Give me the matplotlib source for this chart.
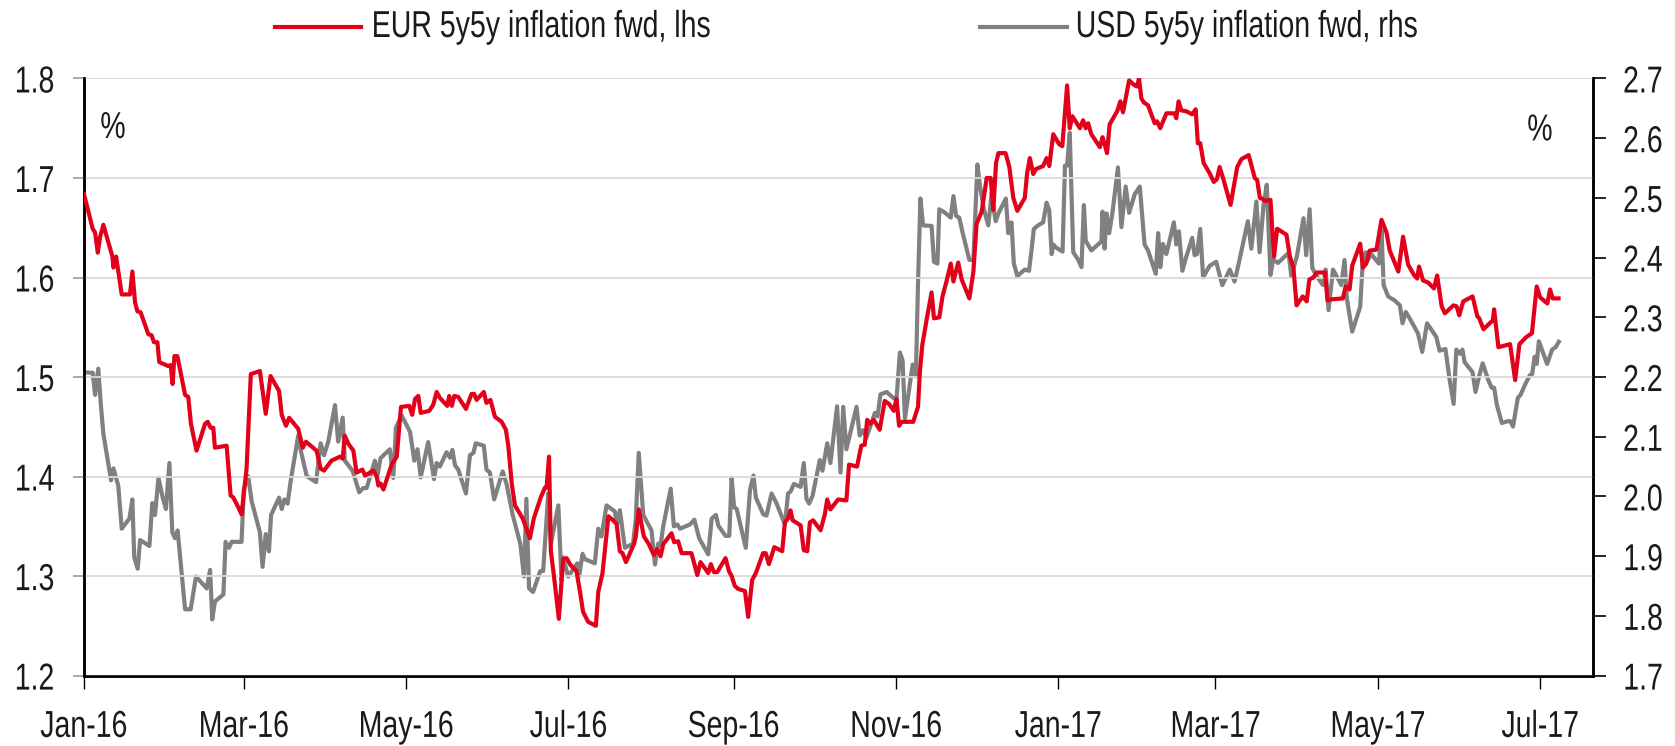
import matplotlib
matplotlib.use("Agg")
import matplotlib.pyplot as plt
import matplotlib.dates as mdates
from matplotlib.lines import Line2D
from matplotlib import patheffects
from matplotlib.transforms import Affine2D
import pandas as pd
import numpy as np

plt.rcParams['font.family'] = ['Liberation Sans', 'DejaVu Sans']

# ---- data (days since 2016-01-01, values in %) ----
eur_days = [0.0, 1.7, 3.3, 4.2, 5.2, 6.1, 7.3, 9.2, 10.7, 11.1, 12.1, 14.2, 17.3, 18.2, 19.2, 20.1, 21.3, 24.2, 25.4, 26.3, 27.6, 28.3, 31.7, 32.6, 33.3, 34.0, 35.1, 38.0, 39.2, 40.2, 42.3, 45.5, 46.5, 47.6, 48.6, 49.2, 53.6, 55.1, 56.1, 58.0, 59.2, 61.1, 62.7, 66.1, 68.3, 70.1, 73.3, 74.3, 75.9, 77.1, 80.5, 82.2, 83.4, 87.4, 88.9, 90.2, 93.0,
            96.2, 97.2, 98.0, 99.3, 101.2, 102.4, 104.6, 105.6, 108.7, 110.0, 110.6, 111.4, 112.5, 115.6, 117.5, 119.1, 122.2, 123.3, 124.4, 125.6, 126.5, 129.7, 131.2, 132.5, 133.7, 136.5, 137.2, 138.2, 139.1, 140.6, 143.5, 145.6, 146.6, 147.5, 150.2, 151.2, 152.7, 154.4, 156.9, 158.5, 159.4, 160.7, 161.9, 164.8, 167.5, 169.0, 171.6, 173.2, 173.8, 174.7, 175.4, 176.6, 178.4, 180.0, 181.3, 182.8, 185.0, 186.3,
            187.5, 189.4, 192.3, 193.2, 194.8, 197.0, 198.8, 200.1, 201.3, 202.3, 203.6, 206.6, 207.3, 208.4, 210.3, 212.2, 214.1, 215.3, 216.6, 217.6, 220.7, 221.7, 223.2, 224.5, 228.2, 230.4, 231.6, 234.5, 235.5, 236.6, 237.9, 241.0, 242.3, 243.3, 244.5, 245.8, 248.3, 249.5, 251.0, 252.4, 255.1, 256.1, 257.3, 259.3, 262.3, 263.3, 264.5, 265.4, 266.2, 269.2, 270.4, 271.7, 272.7, 273.9, 276.7, 278.3, 279.2, 280.4,
            283.3, 286.4, 287.4, 290.4, 292.0, 293.3, 294.2, 295.4, 296.7, 298.9, 300.8, 302.4, 304.2, 305.2, 306.2, 307.1, 311.5, 313.3, 314.0, 314.9, 316.5, 318.4, 319.3, 321.3, 322.5, 324.0, 325.6, 326.6, 328.4, 329.7, 332.6, 334.1, 335.3, 337.2, 339.1, 340.6, 341.6, 342.6, 343.5, 346.2, 347.6, 349.1, 350.6, 353.4, 354.3, 355.3, 356.6, 357.6, 360.3, 361.6, 362.6, 364.1, 366.3, 367.5, 369.3, 370.3, 371.3,
            374.1, 375.3, 376.3, 377.2, 378.4, 380.6, 381.6, 382.6, 383.4, 384.3, 385.3, 388.1, 389.3, 390.3, 392.6, 394.7, 395.6, 396.3, 397.2, 398.1, 399.7, 402.2, 403.1, 404.3, 406.6, 409.7, 410.3, 411.2, 412.2, 414.1, 416.3, 417.6, 418.4, 419.3, 420.6, 422.8, 424.4, 425.6, 426.6, 428.2, 430.7, 433.2, 434.8, 437.5, 439.8, 440.7, 441.7, 442.7, 443.6, 445.7, 447.0, 448.2, 451.7, 453.0, 454.3, 455.5, 457.8, 459.3, 460.3, 461.8, 463.1, 466.2, 467.1, 468.4,
            472.9, 473.9, 475.4, 476.4, 479.4, 480.4, 481.7, 482.9, 485.5, 487.4, 489.3, 490.5, 493.7, 495.5, 497.4, 499.5, 500.8, 501.5, 503.0, 504.9, 507.1, 508.3, 510.0, 511.2, 514.4, 515.6, 516.6, 518.1, 521.6, 523.4, 524.1, 525.7, 529.2, 529.7, 531.3, 535.7, 537.6, 539.2, 541.7, 543.9, 545.7, 547.0, 549.7, 550.7, 551.7, 553.9]
eur_vals = [1.684, 1.666, 1.649, 1.645, 1.625, 1.641, 1.653, 1.635, 1.621, 1.610, 1.621, 1.583, 1.583, 1.606, 1.575, 1.566, 1.565, 1.543, 1.542, 1.535, 1.535, 1.515, 1.511, 1.512, 1.493, 1.521, 1.521, 1.482, 1.480, 1.453, 1.426, 1.453, 1.455, 1.449, 1.449, 1.429, 1.431, 1.381, 1.379, 1.369, 1.362, 1.408, 1.503, 1.506, 1.463, 1.501, 1.486, 1.462, 1.451, 1.459, 1.448, 1.429, 1.435, 1.426, 1.408, 1.406, 1.416,
            1.420, 1.418, 1.441, 1.433, 1.426, 1.404, 1.407, 1.401, 1.406, 1.400, 1.391, 1.393, 1.387, 1.412, 1.420, 1.470, 1.471, 1.462, 1.478, 1.481, 1.464, 1.466, 1.472, 1.485, 1.479, 1.471, 1.481, 1.471, 1.481, 1.480, 1.468, 1.483, 1.483, 1.477, 1.485, 1.474, 1.477, 1.460, 1.455, 1.447, 1.431, 1.393, 1.371, 1.358, 1.338, 1.358, 1.379, 1.389, 1.389, 1.420, 1.325, 1.299, 1.257, 1.317, 1.318, 1.311, 1.305, 1.285,
            1.264, 1.254, 1.250, 1.284, 1.303, 1.360, 1.356, 1.352, 1.325, 1.323, 1.314, 1.332, 1.340, 1.367, 1.340, 1.332, 1.321, 1.327, 1.320, 1.332, 1.343, 1.334, 1.335, 1.323, 1.323, 1.301, 1.314, 1.303, 1.312, 1.304, 1.304, 1.318, 1.305, 1.300, 1.290, 1.287, 1.285, 1.259, 1.296, 1.303, 1.323, 1.323, 1.312, 1.329, 1.325, 1.354, 1.358, 1.366, 1.356, 1.351, 1.326, 1.325, 1.354, 1.356, 1.346, 1.362, 1.377, 1.367,
            1.377, 1.376, 1.412, 1.410, 1.431, 1.432, 1.457, 1.453, 1.457, 1.447, 1.476, 1.473, 1.466, 1.478, 1.451, 1.455, 1.455, 1.470, 1.505, 1.532, 1.557, 1.585, 1.559, 1.560, 1.581, 1.596, 1.614, 1.596, 1.615, 1.598, 1.579, 1.606, 1.654, 1.666, 1.700, 1.700, 1.668, 1.715, 1.725, 1.725, 1.711, 1.680, 1.667, 1.680, 1.705, 1.720, 1.704, 1.709, 1.712, 1.720, 1.712, 1.744, 1.734, 1.732, 1.793, 1.750, 1.762,
            1.750, 1.758, 1.750, 1.755, 1.744, 1.735, 1.731, 1.741, 1.734, 1.725, 1.754, 1.767, 1.777, 1.766, 1.798, 1.793, 1.792, 1.800, 1.780, 1.776, 1.773, 1.755, 1.757, 1.750, 1.765, 1.765, 1.760, 1.777, 1.768, 1.767, 1.764, 1.769, 1.735, 1.735, 1.715, 1.705, 1.696, 1.699, 1.711, 1.697, 1.673, 1.711, 1.719, 1.723, 1.700, 1.698, 1.680, 1.679, 1.677, 1.678, 1.621, 1.649, 1.643, 1.621, 1.610, 1.572, 1.581, 1.576, 1.598, 1.600, 1.605, 1.605, 1.577, 1.578,
            1.579, 1.591, 1.588, 1.612, 1.634, 1.610, 1.614, 1.627, 1.628, 1.658, 1.645, 1.627, 1.606, 1.641, 1.613, 1.603, 1.599, 1.611, 1.597, 1.595, 1.589, 1.602, 1.571, 1.564, 1.572, 1.571, 1.562, 1.576, 1.581, 1.561, 1.559, 1.548, 1.557, 1.568, 1.530, 1.533, 1.497, 1.533, 1.540, 1.544, 1.591, 1.580, 1.574, 1.588, 1.579, 1.579]

usd_days = [0.0, 3.3, 4.2, 5.4, 6.3, 7.3, 10.2, 11.1, 12.9, 14.2, 17.1, 18.2, 18.9, 20.2, 21.1, 24.6, 25.7, 26.7, 28.0, 29.6, 30.8, 32.1, 33.2, 34.2, 35.2, 38.0, 40.1, 42.1, 46.1, 47.4, 48.2, 49.2, 52.4, 53.2, 54.5, 55.5, 59.2, 60.1, 61.7, 63.0, 66.1, 67.1, 68.3, 69.5, 70.3, 73.3, 74.3, 75.3, 76.5, 77.7, 80.5, 81.5, 83.7, 87.2, 88.9, 90.2, 91.8, 94.3, 95.5,
            97.2, 98.0, 100.9, 103.4, 104.9, 106.2, 109.3, 110.2, 111.4, 114.9, 116.2, 117.2, 119.3, 122.5, 124.1, 125.3, 126.5, 129.3, 131.5, 132.5, 133.7, 136.2, 137.5, 138.4, 139.4, 140.6, 143.5, 145.0, 146.3, 147.2, 150.2, 151.2, 152.5, 154.1, 157.3, 158.8, 161.0, 163.9, 165.3, 166.2, 167.2, 168.7, 171.4, 172.5, 174.4, 175.4, 178.2, 179.4, 180.0, 181.9, 185.3, 186.0,
            187.3, 188.2, 191.9, 193.2, 194.4, 196.3, 199.4, 200.3, 201.3, 203.2, 206.3, 207.3, 208.4, 210.1, 213.2, 214.5, 215.7, 216.6, 217.6, 220.4, 221.6, 222.9, 223.9, 227.6, 229.3, 231.1, 234.5, 235.8, 237.4, 238.3, 241.0, 242.4, 243.3, 244.2, 245.2, 248.6, 250.2, 251.5, 252.4, 255.2, 256.4, 258.3, 260.2, 263.3, 264.5, 265.4, 266.7, 269.2, 270.4, 271.4, 272.4, 273.7, 276.4, 277.4, 279.2, 280.4,
            282.9, 284.2, 285.2, 286.4, 290.2, 291.4, 292.7, 293.9, 297.1, 298.1, 299.2, 301.5, 304.3, 305.2, 306.5, 307.5, 308.4, 311.3, 312.5, 313.3, 314.2, 315.2, 318.4, 319.3, 320.6, 321.3, 323.5, 325.6, 326.6, 327.6, 328.8, 330.1, 332.6, 334.1, 335.6, 336.6, 338.1, 339.7, 341.0, 341.8, 342.5, 343.5, 346.3, 347.2, 348.4, 349.3, 350.6, 353.4, 355.0, 356.0, 356.8, 358.4, 360.3, 361.6, 362.6, 363.5, 364.1, 365.1, 367.6, 368.5, 369.3, 370.3, 371.6, 373.4, 374.7,
            375.6, 376.3, 378.4, 380.9, 382.2, 382.6, 383.4, 384.1, 385.1, 386.3, 388.4, 389.7, 391.3, 392.6, 394.7, 396.6, 398.4, 399.7, 402.6, 403.5, 404.3, 405.3, 406.6, 409.4, 410.3, 411.3, 412.6, 414.1, 416.3, 417.2, 418.1, 419.3, 420.4, 422.8, 425.3, 427.6, 430.4, 432.2, 433.8, 437.2, 438.5, 440.4, 441.6, 443.1, 444.3, 445.7, 446.7, 448.5, 452.5, 453.5, 455.6, 458.1, 459.1, 460.4, 461.4, 462.9, 465.4, 466.4, 467.5,
            469.2, 472.3, 473.5, 474.4, 476.4, 479.4, 480.4, 481.4, 482.3, 483.5, 486.4, 487.4, 488.2, 489.9, 492.4, 494.3, 495.3, 496.5, 498.0, 501.1, 502.7, 504.5, 508.0, 509.2, 511.4, 513.0, 514.5, 515.5, 516.8, 517.8, 518.6, 521.6, 522.7, 524.1, 525.4, 527.5, 528.8, 529.7, 530.7, 532.6, 534.8, 535.8, 536.8, 538.6, 539.6, 541.5, 543.1, 544.0, 544.9, 545.7, 546.5, 549.6, 551.5, 552.8, 554.0]
usd_vals = [2.208, 2.207, 2.170, 2.214, 2.157, 2.105, 2.027, 2.047, 2.018, 1.946, 1.963, 1.995, 1.898, 1.879, 1.927, 1.917, 1.989, 1.969, 2.031, 1.998, 1.979, 2.056, 1.940, 1.930, 1.943, 1.811, 1.811, 1.866, 1.846, 1.877, 1.794, 1.824, 1.836, 1.924, 1.914, 1.924, 1.924, 2.014, 2.034, 1.992, 1.940, 1.882, 1.937, 1.908, 1.969, 1.998, 1.979, 1.995, 1.988, 2.027, 2.102, 2.076, 2.034, 2.024, 2.089, 2.069, 2.092, 2.153, 2.092,
            2.132, 2.060, 2.043, 2.007, 2.014, 2.014, 2.060, 2.034, 2.064, 2.079, 2.031, 2.115, 2.136, 2.108, 2.060, 2.079, 2.032, 2.091, 2.029, 2.056, 2.050, 2.074, 2.065, 2.078, 2.052, 2.045, 2.005, 2.069, 2.073, 2.089, 2.085, 2.045, 2.040, 1.995, 2.042, 2.020, 1.970, 1.921, 1.866, 1.996, 1.846, 1.840, 1.875, 1.875, 2.005, 1.921, 1.985, 1.859, 1.898, 1.866, 1.888, 1.866,
            1.904, 1.895, 1.888, 1.946, 1.933, 1.985, 1.975, 1.953, 1.977, 1.914, 1.921, 1.963, 2.073, 1.969, 1.943, 1.886, 1.921, 1.918, 1.950, 2.013, 1.950, 1.953, 1.946, 1.953, 1.961, 1.930, 1.903, 1.963, 1.969, 1.951, 1.934, 1.934, 2.031, 1.982, 1.979, 1.914, 2.011, 2.035, 1.998, 1.970, 1.968, 2.005, 1.988, 1.953, 2.005, 2.008, 2.021, 2.016, 2.056, 1.996, 1.988, 2.001, 2.061, 2.043, 2.089, 2.056,
            2.151, 2.040, 2.150, 2.079, 2.150, 2.102, 2.111, 2.098, 2.140, 2.134, 2.171, 2.175, 2.164, 2.162, 2.241, 2.228, 2.131, 2.221, 2.201, 2.357, 2.499, 2.454, 2.453, 2.393, 2.390, 2.481, 2.475, 2.467, 2.503, 2.470, 2.467, 2.441, 2.396, 2.396, 2.556, 2.519, 2.480, 2.454, 2.509, 2.479, 2.461, 2.474, 2.499, 2.441, 2.459, 2.390, 2.369, 2.380, 2.378, 2.415, 2.448, 2.454, 2.459, 2.492, 2.479, 2.406, 2.422, 2.417, 2.410, 2.554, 2.554, 2.609, 2.409, 2.397, 2.384,
            2.488, 2.428, 2.412, 2.422, 2.427, 2.477, 2.415, 2.474, 2.441, 2.474, 2.551, 2.451, 2.519, 2.475, 2.506, 2.519, 2.422, 2.412, 2.373, 2.441, 2.384, 2.423, 2.406, 2.459, 2.422, 2.444, 2.378, 2.402, 2.433, 2.404, 2.406, 2.448, 2.367, 2.386, 2.393, 2.354, 2.380, 2.360, 2.391, 2.461, 2.415, 2.494, 2.409, 2.488, 2.522, 2.371, 2.397, 2.391, 2.408, 2.369, 2.402, 2.466, 2.404, 2.481, 2.383, 2.370, 2.354, 2.380, 2.312,
            2.380, 2.354, 2.396, 2.331, 2.276, 2.318, 2.396, 2.409, 2.396, 2.406, 2.390, 2.445, 2.354, 2.335, 2.328, 2.320, 2.290, 2.309, 2.298, 2.273, 2.242, 2.290, 2.267, 2.244, 2.247, 2.195, 2.155, 2.246, 2.239, 2.246, 2.225, 2.208, 2.175, 2.202, 2.223, 2.195, 2.182, 2.182, 2.154, 2.123, 2.126, 2.126, 2.117, 2.165, 2.170, 2.189, 2.203, 2.205, 2.234, 2.222, 2.260, 2.222, 2.246, 2.250, 2.259]

eur_label = "EUR 5y5y inflation fwd, lhs"
usd_label = "USD 5y5y inflation fwd, rhs"
x_ticks = ["2016-01-01", "2016-03-01", "2016-05-01", "2016-07-01", "2016-09-01", "2016-11-01",
           "2017-01-01", "2017-03-01", "2017-05-01", "2017-07-01"]
left_ticks = [1.2, 1.3, 1.4, 1.5, 1.6, 1.7, 1.8]
right_ticks = [1.7, 1.8, 1.9, 2.0, 2.1, 2.2, 2.3, 2.4, 2.5, 2.6, 2.7]

base = pd.Timestamp("2016-01-01")
eur_dates = base + pd.to_timedelta(eur_days, unit="D")
usd_dates = base + pd.to_timedelta(usd_days, unit="D")

RED = "#E2001A"
GREY = "#808080"
TXT = "#1a1a1a"
FS = 27
SX = 0.76


class HScale(patheffects.AbstractPathEffect):
    """Narrow the glyphs horizontally (condensed look) around an anchor."""
    def __init__(self, sx, anchor="center"):
        super().__init__()
        self.sx = sx
        self.anchor = anchor

    def draw_path(self, renderer, gc, tpath, affine, rgbFace=None):
        ext = tpath.transformed(affine).get_extents()
        if self.anchor == "left":
            cx = ext.x0
        elif self.anchor == "right":
            cx = ext.x1
        else:
            cx = 0.5 * (ext.x0 + ext.x1)
        new = affine + Affine2D().translate(-cx, 0).scale(self.sx, 1.0).translate(cx, 0)
        renderer.draw_path(gc, tpath, new, rgbFace)


fig = plt.figure(figsize=(16.75, 7.46), dpi=100)
ax = fig.add_axes([0.0501, 0.0944, 0.9012, 0.8004])
ax2 = ax.twinx()

ax.plot(eur_dates, eur_vals, color=RED, lw=3.0, zorder=3)
ax2.plot(usd_dates, usd_vals, color=GREY, lw=3.0, zorder=2)
ax.set_zorder(ax2.get_zorder() + 1)
ax.patch.set_visible(False)

ax.set_xlim(base, pd.Timestamp("2017-07-21"))
ax.set_ylim(1.2, 1.8)
ax2.set_ylim(1.7, 2.7)
ax.set_yticks(left_ticks)
ax.set_yticklabels([f"{v:.1f}" for v in left_ticks])
ax2.set_yticks(right_ticks)
ax2.set_yticklabels([f"{v:.1f}" for v in right_ticks])
ax.set_xticks(pd.to_datetime(x_ticks))
ax.xaxis.set_major_formatter(mdates.DateFormatter("%b-%y"))

ax.grid(axis="y", color="#d9d9d9", lw=1.3)
ax.set_axisbelow(True)

for a in (ax, ax2):
    a.spines["top"].set_visible(False)
    for s in ("left", "right", "bottom"):
        a.spines[s].set_linewidth(1.8)
        a.spines[s].set_color("black")
ax.tick_params(axis="x", direction="out", length=9, width=1.0, color="black",
               labelsize=FS, labelcolor=TXT, pad=15)
ax.tick_params(axis="y", direction="out", length=8, width=1.2, color="#9a9a9a",
               labelsize=FS, labelcolor=TXT, pad=13)
ax2.tick_params(axis="y", direction="out", length=9, width=1.2, color="black",
                labelsize=FS, labelcolor=TXT, pad=12)

for lab in ax.get_xticklabels():
    lab.set_path_effects([HScale(SX, "center")])
for lab in ax.get_yticklabels():
    lab.set_path_effects([HScale(SX, "right")])
for lab in ax2.get_yticklabels():
    lab.set_path_effects([HScale(SX, "left")])

t1 = ax.text(0.0193, 0.917, "%", transform=ax.transAxes, fontsize=FS, color=TXT,
             va="center", ha="center")
t2 = ax.text(0.9646, 0.913, "%", transform=ax.transAxes, fontsize=FS, color=TXT,
             va="center", ha="center")
for t in (t1, t2):
    t.set_path_effects([HScale(SX, "center")])

# legend
ly = 1 - 27 / 746
fig.add_artist(Line2D([275 / 1675, 361 / 1675], [ly, ly], color=RED, lw=3.0))
l1 = fig.text(371 / 1675, ly, eur_label, fontsize=FS, color=TXT, va="center", ha="left")
fig.add_artist(Line2D([980 / 1675, 1067 / 1675], [ly, ly], color=GREY, lw=3.0))
l2 = fig.text(1075 / 1675, ly, usd_label, fontsize=FS, color=TXT, va="center", ha="left")
for t in (l1, l2):
    t.set_path_effects([HScale(SX, "left")])

fig.savefig("out.png", dpi=100)
